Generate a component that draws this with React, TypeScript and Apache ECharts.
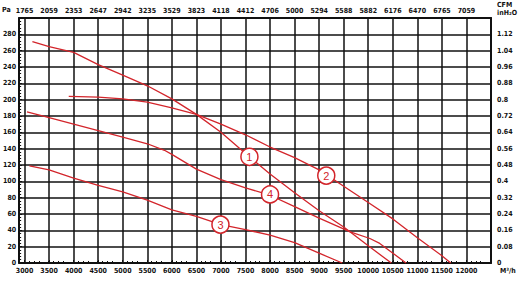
import React, { useEffect, useRef } from "react";
import * as echarts from "echarts";

const xTicks = [3000, 3500, 4000, 4500, 5000, 5500, 6000, 6500, 7000, 7500, 8000, 8500, 9000, 9500, 10000, 10500, 11000, 11500, 12000];
const cfmLabels = ["1765", "2059", "2353", "2647", "2942", "3235", "3529", "3823", "4118", "4412", "4706", "5000", "5294", "5588", "5882", "6176", "6470", "6765", "7059"];

const curve1: [number, number][] = [
  [3160, 271], [3500, 265], [4000, 258], [4500, 243], [5000, 230], [5500, 217], [6000, 201],
  [6500, 182], [7000, 160], [7500, 134], [8000, 109], [8500, 86], [9000, 64], [9500, 44],
  [10000, 21], [10470, 0],
];
const curve2: [number, number][] = [
  [3900, 204], [4500, 203], [5000, 201], [5500, 197], [6000, 190], [6500, 182], [7000, 170],
  [7500, 157], [8000, 142], [8500, 129], [9000, 114], [9500, 94], [10000, 74], [10500, 54],
  [11000, 31], [11500, 9], [11680, 0],
];
const curve3: [number, number][] = [
  [3100, 119], [3500, 114], [4000, 104], [4500, 95], [5000, 87], [5500, 77], [6000, 65],
  [6500, 57], [7000, 47], [7500, 41], [8000, 34], [8500, 25], [9000, 12], [9470, 0],
];
const curve4: [number, number][] = [
  [3050, 185], [3500, 178], [4000, 170], [4500, 162], [5000, 154], [5500, 146], [5850, 138],
  [6000, 133], [6500, 115], [7000, 102], [7500, 92], [8000, 83], [8500, 69], [9000, 55],
  [9634, 38], [10034, 30], [10234, 24], [10770, 0],
];
const curveNames = ["1", "2", "3", "4"];
const labelPositions: [number, number][] = [
  [7580, 130], [9145, 107], [6990, 47], [8000, 84],
];

const RED = "#d3252b";
const FONT = "'Liberation Sans Narrow', 'DejaVu Sans Condensed', 'Roboto', sans-serif";

export default function App() {
  const ref = useRef<HTMLDivElement>(null);
  useEffect(() => {
    if (!ref.current) return;
    const chart = echarts.init(ref.current, undefined, { renderer: "svg" });
    const curves = [curve1, curve2, curve3, curve4];
    const labelStyle = { fontFamily: FONT, fontSize: 7, fontWeight: "bold" as const, color: "#111" };
    chart.setOption({
      animation: false,
      backgroundColor: "#fff",
      grid: { left: 18, right: 37, top: 18, bottom: 23, containLabel: false },
      xAxis: [
        {
          type: "value",
          position: "bottom",
          min: 2890,
          max: 12500,
          interval: 500,
          axisLine: { show: true, onZero: false, lineStyle: { color: "#111", width: 2 } },
          axisTick: { show: true, inside: true, length: 3, customValues: xTicks, lineStyle: { color: "#111", width: 1 } },
          minorTick: { show: true, splitNumber: 5, length: 2, lineStyle: { color: "#111", width: 1 } },
          axisLabel: {
            ...labelStyle,
            margin: 4,
            hideOverlap: false,
            customValues: xTicks,
            formatter: (v: number) => String(v),
          },
          splitLine: { show: true, lineStyle: { color: "#111", width: 1.5 } },
        },
        {
          type: "value",
          position: "top",
          min: 2890,
          max: 12500,
          interval: 500,
          axisLine: { show: true, onZero: false, lineStyle: { color: "#111", width: 2 } },
          axisTick: { show: false, customValues: xTicks },
          axisLabel: {
            ...labelStyle,
            margin: 4,
            hideOverlap: false,
            customValues: xTicks,
            formatter: (v: number) => {
              const i = xTicks.indexOf(v);
              return i >= 0 ? cfmLabels[i] : "";
            },
          },
          splitLine: { show: false },
        },
      ],
      yAxis: [
        {
          type: "value",
          position: "left",
          min: 0,
          max: 300,
          interval: 20,
          axisLine: { show: true, onZero: false, lineStyle: { color: "#111", width: 2 } },
          axisTick: { show: true, inside: true, length: 3, lineStyle: { color: "#111", width: 1 } },
          minorTick: { show: true, splitNumber: 5, length: 2, lineStyle: { color: "#111", width: 1 } },
          axisLabel: {
            ...labelStyle,
            margin: 3,
            formatter: (v: number) => (v >= 300 ? "" : String(v)),
          },
          splitLine: { show: true, lineStyle: { color: "#111", width: 1.5 } },
        },
        {
          type: "value",
          position: "right",
          min: 0,
          max: 1.2,
          interval: 0.08,
          axisLine: { show: true, onZero: false, lineStyle: { color: "#111", width: 2 } },
          axisTick: { show: false },
          axisLabel: {
            ...labelStyle,
            margin: 6,
            formatter: (v: number) => (v > 1.15 ? "" : String(parseFloat(v.toFixed(2)))),
          },
          splitLine: { show: false },
        },
      ],
      graphic: [
        { type: "text", left: 2, top: 6, style: { text: "Pa", font: `bold 7px ${FONT}`, fill: "#111" } },
        { type: "text", left: 497, top: 1, style: { text: "CFM", font: `bold 7px ${FONT}`, fill: "#111" } },
        { type: "text", left: 497, top: 9, style: { text: "inH₂O", font: `bold 7px ${FONT}`, fill: "#111" } },
        { type: "text", left: 500, top: 267, style: { text: "M³/h", font: `bold 7px ${FONT}`, fill: "#111" } },
      ],
      series: curves.map((c, i) => ({
        type: "line",
        name: curveNames[i],
        data: c,
        xAxisIndex: 0,
        yAxisIndex: 0,
        showSymbol: false,
        symbol: "none",
        smooth: false,
        lineStyle: { color: RED, width: 1.3 },
        z: 3,
        markPoint: {
          symbol: "circle",
          symbolSize: 17,
          itemStyle: { color: "#fff", borderColor: RED, borderWidth: 1.5 },
          label: {
            show: true,
            position: "inside",
            color: RED,
            fontSize: 11,
            fontFamily: "'Liberation Sans', sans-serif",
            formatter: curveNames[i],
          },
          data: [{ coord: labelPositions[i], name: curveNames[i] }],
        },
      })),
    });
    return () => chart.dispose();
  }, []);
  return (
    <div
      ref={ref}
      style={{ position: "fixed", left: 0, top: 0, width: 528, height: 286, background: "#fff" }}
    />
  );
}
